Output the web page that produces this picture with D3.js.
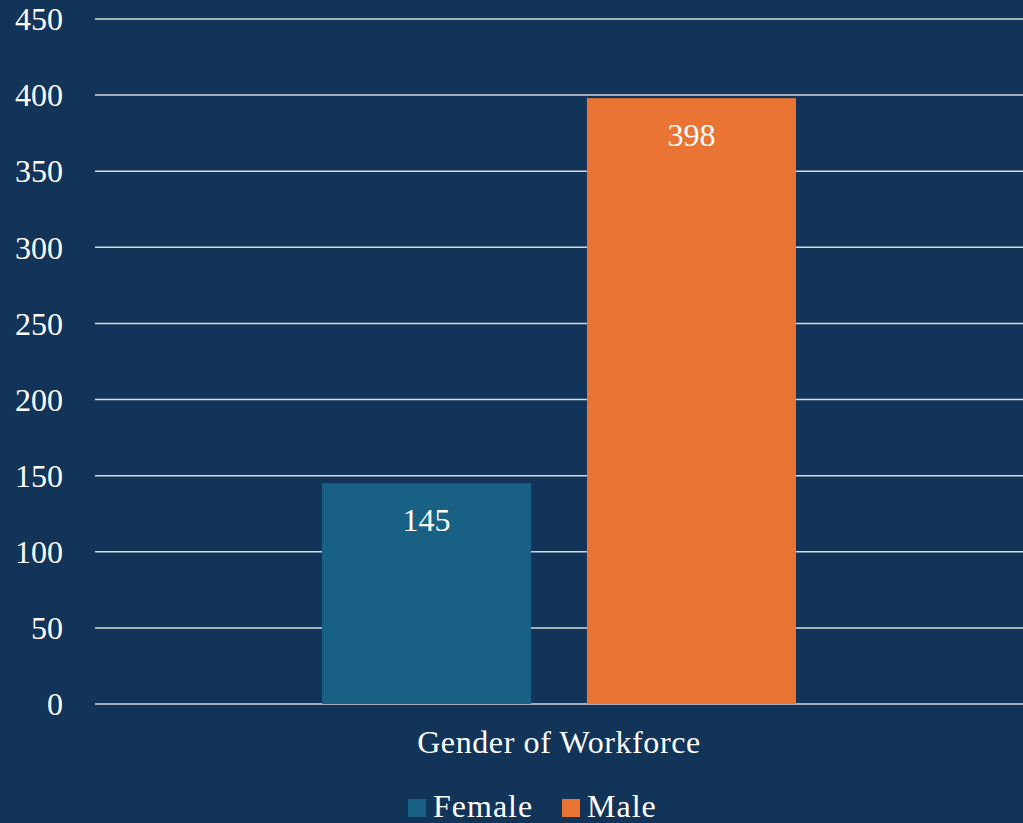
<!DOCTYPE html>
<html>
<head>
<meta charset="utf-8">
<script src="https://cdn.jsdelivr.net/npm/d3@7"></script>
<style>
  html, body { margin: 0; padding: 0; background: #133459; }
  svg { display: block; }
</style>
</head>
<body>
<svg id="chart"></svg>
<script>
// Chart data
const categories = ["Gender of Workforce"];
const seriesNames = ["Female", "Male"];
const seriesValues = [145, 398];
const seriesColors = ["#186084", "#E97434"];
const yTicks = [0, 50, 100, 150, 200, 250, 300, 350, 400, 450];

const width = 1023;
const height = 823;
const margin = { top: 19, right: 0, bottom: 119, left: 95 };
const fontSize = 32;
const fontFamily = "'Times New Roman', Times, 'Liberation Serif', 'DejaVu Serif', serif";

const svg = d3.select("#chart")
    .attr("width", width)
    .attr("height", height)
    .attr("font-family", fontFamily)
    .style("font-family", fontFamily);

svg.append("rect")
    .attr("width", width)
    .attr("height", height)
    .attr("fill", "#133459");

const y = d3.scaleLinear()
    .domain([0, 450])
    .range([height - margin.bottom, margin.top]);

// one category band, two bars inside it
const x0 = d3.scaleBand()
    .domain(categories)
    .range([margin.left, width - margin.right])
    .paddingInner(0)
    .paddingOuter(0.479);

const x1 = d3.scaleBand()
    .domain(seriesNames)
    .range([0, x0.bandwidth()])
    .paddingInner(0.211)
    .paddingOuter(0);

// Gridlines
svg.append("g")
    .selectAll("line")
    .data(yTicks)
    .join("line")
    .attr("x1", margin.left)
    .attr("x2", width - margin.right)
    .attr("y1", d => y(d))
    .attr("y2", d => y(d))
    .attr("stroke", "#D9D9D9")
    .attr("stroke-width", 1.5);

// Y tick labels
svg.append("g")
    .selectAll("text")
    .data(yTicks)
    .join("text")
    .attr("x", 63)
    .attr("y", d => y(d))
    .attr("dy", "0.35em")
    .attr("text-anchor", "end")
    .attr("fill", "#ffffff")
    .attr("font-size", fontSize)
    .style("font-family", fontFamily)
    .text(d => d);

// Bars
const data = seriesNames.map((name, i) => ({ name, value: seriesValues[i], color: seriesColors[i] }));

const group = svg.append("g")
    .attr("transform", `translate(${x0(categories[0])},0)`);

group.selectAll("rect")
    .data(data)
    .join("rect")
    .attr("x", d => x1(d.name))
    .attr("y", d => y(d.value))
    .attr("width", x1.bandwidth())
    .attr("height", d => y(0) - y(d.value))
    .attr("fill", d => d.color);

group.selectAll("text")
    .data(data)
    .join("text")
    .attr("x", d => x1(d.name) + x1.bandwidth() / 2)
    .attr("y", d => y(d.value) + 48)
    .attr("text-anchor", "middle")
    .attr("fill", "#ffffff")
    .attr("font-size", fontSize)
    .style("font-family", fontFamily)
    .text(d => d.value);

// Category label
svg.append("text")
    .attr("x", x0(categories[0]) + x0.bandwidth() / 2)
    .attr("y", 753)
    .attr("text-anchor", "middle")
    .attr("fill", "#ffffff")
    .attr("font-size", fontSize)
    .style("font-family", fontFamily)
    .attr("letter-spacing", 0.6)
    .text(categories[0]);

// Legend
const legendX = [408, 562];
const legend = svg.append("g")
    .selectAll("g")
    .data(data)
    .join("g")
    .attr("transform", (d, i) => `translate(${legendX[i]},799)`);

legend.append("rect")
    .attr("width", 18)
    .attr("height", 18)
    .attr("fill", d => d.color);

legend.append("text")
    .attr("x", 25)
    .attr("y", 18)
    .attr("fill", "#ffffff")
    .attr("font-size", fontSize)
    .style("font-family", fontFamily)
    .attr("letter-spacing", 1)
    .text(d => d.name);
</script>
</body>
</html>
